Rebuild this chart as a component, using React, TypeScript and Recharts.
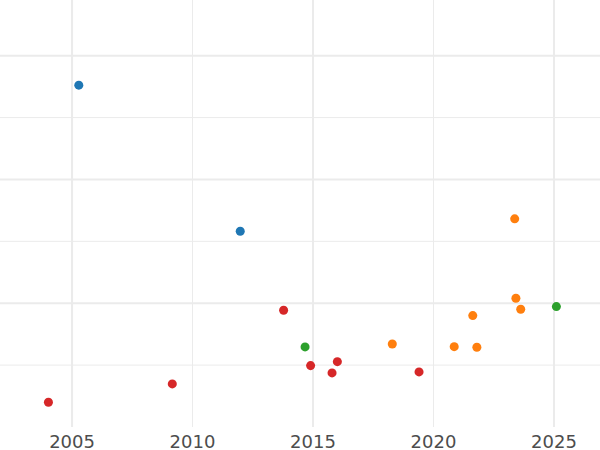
import { ReferenceLine, Scatter, ScatterChart, XAxis, YAxis } from 'recharts'

// series values (x = year, y = unlabeled value)
const blueYears = [2005.28, 2011.98]
const blueValues = [27.62, 15.82]

const orangeYears = [2018.29, 2020.86, 2021.63, 2021.8, 2023.37, 2023.42, 2023.62]
const orangeValues = [6.71, 6.49, 9.0, 6.44, 16.82, 10.4, 9.51]

const greenYears = [2014.67, 2025.1]
const greenValues = [6.47, 9.73]

const redYears = [2004.02, 2009.16, 2013.78, 2014.9, 2015.79, 2016.01, 2019.4]
const redValues = [2.0, 3.48, 9.43, 4.96, 4.37, 5.28, 4.45]

const xTicks = [2005, 2010, 2015, 2020, 2025]
const xMajor = [2005, 2015, 2025]
const xMinor = [2010, 2020]
const yMajor = [10, 20, 30]
const yMinor = [5, 15, 25]

const toPoints = (xs: number[], ys: number[]) => xs.map((x, i) => ({ x, y: ys[i] }))

const series = [
  { name: 'blue', color: '#1f77b4', data: toPoints(blueYears, blueValues) },
  { name: 'orange', color: '#ff7f0e', data: toPoints(orangeYears, orangeValues) },
  { name: 'green', color: '#2ca02c', data: toPoints(greenYears, greenValues) },
  { name: 'red', color: '#d62728', data: toPoints(redYears, redValues) },
]

const gridColor = '#ebebeb'

export default function App() {
  return (
    <div style={{ position: 'absolute', left: 0, top: 0 }}>
      <ScatterChart width={600} height={450} margin={{ top: 0, right: 0, bottom: 0, left: 0 }}>
        {yMajor.map((v) => (
          <ReferenceLine key={'ym' + v} y={v} stroke={gridColor} strokeWidth={2} />
        ))}
        {yMinor.map((v) => (
          <ReferenceLine key={'yn' + v} y={v} stroke={gridColor} strokeWidth={1} />
        ))}
        {xMajor.map((v) => (
          <ReferenceLine key={'xm' + v} x={v} stroke={gridColor} strokeWidth={2} />
        ))}
        {xMinor.map((v) => (
          <ReferenceLine key={'xn' + v} x={v} stroke={gridColor} strokeWidth={1} />
        ))}
        <XAxis
          type="number"
          dataKey="x"
          domain={[2002.01, 2026.91]}
          ticks={xTicks}
          allowDataOverflow
          height={23}
          axisLine={false}
          tickLine={false}
          tick={{ fill: '#4d4d4d', fontSize: 18, fontFamily: 'DejaVu Sans' }}
        />
        <YAxis type="number" dataKey="y" domain={[0, 34.5]} hide allowDataOverflow />
        {series.map((s) => (
          <Scatter key={s.name} name={s.name} data={s.data} fill={s.color} isAnimationActive={false} />
        ))}
      </ScatterChart>
    </div>
  )
}
